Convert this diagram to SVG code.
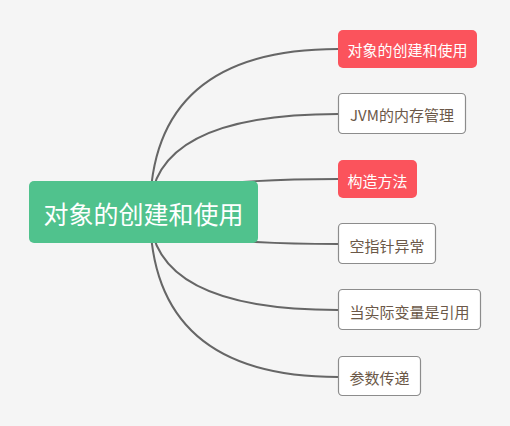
<svg xmlns="http://www.w3.org/2000/svg" width="510" height="426" viewBox="0 0 510 426">
<style>
.c{fill:none;stroke:#666666;stroke-width:2}
.red{fill:#fb535c}
.wh{fill:#ffffff;stroke:#8c8c8c;stroke-width:1.2}
.t{font-family:"Noto Sans CJK SC","Noto Sans",sans-serif;font-size:15px;text-anchor:middle;dominant-baseline:central}
.tw{fill:#ffffff}
.tb{fill:#6b5848}
</style>
<rect width="510" height="426" fill="#f5f5f5"/>
<g id="connectors">
<path class="c" d="M150,212 Q150,49 338,49"/>
<path class="c" d="M150,212 Q150,114 338,114"/>
<path class="c" d="M150,212 Q150,179 338,179"/>
<path class="c" d="M150,212 Q150,244 338,244"/>
<path class="c" d="M150,212 Q150,310 338,310"/>
<path class="c" d="M150,212 Q150,377 338,377"/>
</g>
<g id="root">
<rect x="29" y="181" width="229" height="62" rx="5" fill="#50c28d"/>
<text x="143.5" y="213" class="t tw" style="font-size:25px">对象的创建和使用</text>
</g>
<g id="n1">
<rect x="338" y="30" width="139" height="38" rx="5" class="red"/>
<text x="407.5" y="49.5" class="t tw">对象的创建和使用</text>
</g>
<g id="n2">
<rect x="338.5" y="93.5" width="127" height="40" rx="4" class="wh"/>
<text x="402" y="114.5" class="t tb">JVM的内存管理</text>
</g>
<g id="n3">
<rect x="338" y="160" width="79" height="38" rx="5" class="red"/>
<text x="377.5" y="180" class="t tw">构造方法</text>
</g>
<g id="n4">
<rect x="338.5" y="223.5" width="97" height="40" rx="4" class="wh"/>
<text x="387" y="245" class="t tb">空指针异常</text>
</g>
<g id="n5">
<rect x="338.5" y="289.5" width="142" height="40" rx="4" class="wh"/>
<text x="409.5" y="311.5" class="t tb">当实际变量是引用</text>
</g>
<g id="n6">
<rect x="338.5" y="356.5" width="82" height="39" rx="4" class="wh"/>
<text x="379.5" y="377" class="t tb">参数传递</text>
</g>
</svg>
